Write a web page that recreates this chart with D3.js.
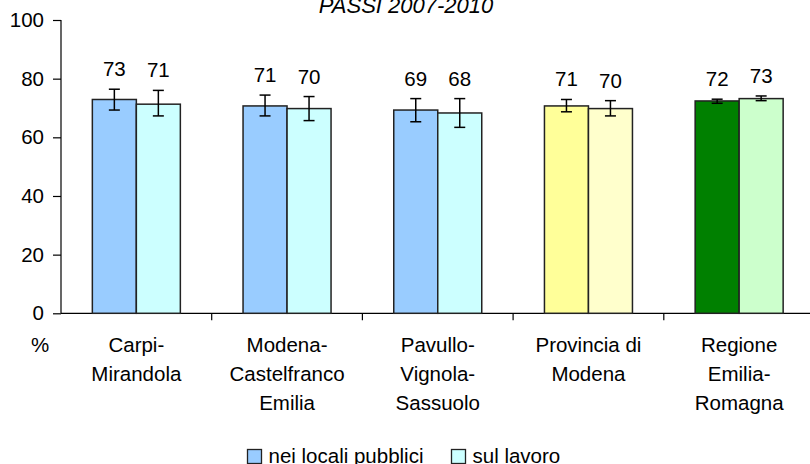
<!DOCTYPE html>
<html>
<head>
<meta charset="utf-8">
<script src="https://cdn.jsdelivr.net/npm/d3@7/dist/d3.min.js"></script>
<style>
  html, body { margin: 0; padding: 0; background: #fff; }
  svg { display: block; font-family: "Liberation Sans", Arial, sans-serif; }
</style>
</head>
<body>
<svg id="chart" width="810" height="464"></svg>
<script>
// ---- data ----
const title = "PASSI 2007-2010";
const categories = ["Carpi-\nMirandola", "Modena-\nCastelfranco\nEmilia", "Pavullo-\nVignola-\nSassuolo", "Provincia di\nModena", "Regione\nEmilia-\nRomagna"];
const seriesNames = ["nei locali pubblici", "sul lavoro"];
const localiValues = [72.9, 70.7, 69.3, 70.7, 72.4];
const lavoroValues = [71.3, 69.8, 68.3, 69.8, 73.2];
const localiLow  = [69.3, 67.3, 65.3, 68.7, 71.6];
const localiHigh = [76.4, 74.4, 73.2, 72.9, 73.0];
const lavoroLow  = [67.3, 65.7, 63.4, 67.3, 72.5];
const lavoroHigh = [76.0, 73.9, 73.2, 72.5, 74.1];
const localiColors = ["#99CCFF", "#99CCFF", "#99CCFF", "#FFFF99", "#008000"];
const lavoroColors = ["#CCFFFF", "#CCFFFF", "#CCFFFF", "#FFFFCC", "#CCFFCC"];
const yTicks = [0, 20, 40, 60, 80, 100];

// ---- layout ----
const svg = d3.select("#chart");
const plotLeft = 61, plotTop = 20, plotBottom = 313.3;
const bandW = 150.7;
const x = d3.scaleBand().domain(d3.range(categories.length)).range([plotLeft, plotLeft + bandW * categories.length]).padding(0);
const y = d3.scaleLinear().domain([0, 100]).range([plotBottom, plotTop]);
const barW = 44;
const inner = d3.scaleBand().domain([0, 1]).range([(bandW - 2 * barW) / 2, (bandW - 2 * barW) / 2 + 2 * barW]).padding(0);

const FS = 20.5;

// title
svg.append("text").attr("x", 406).attr("y", 12.5).attr("text-anchor", "middle")
  .attr("font-size", 22).attr("font-style", "italic").text(title);

// y axis
const yAxis = d3.axisLeft(y).tickValues(yTicks).tickSize(8).tickPadding(9).tickFormat(d3.format("d"));
const gy = svg.append("g").attr("transform", `translate(${plotLeft},0)`).call(yAxis);
gy.select(".domain").attr("stroke", "#000").attr("stroke-width", 1.2).attr("d", `M0,${plotTop}V${plotBottom}`);
gy.selectAll(".tick line").attr("stroke", "#000").attr("stroke-width", 1.2);
gy.selectAll(".tick text").attr("font-size", FS).attr("fill", "#000").attr("font-family", "Liberation Sans, Arial, sans-serif");

// x axis
const xAxis = d3.axisBottom(x).tickValues([]).tickSize(0);
const gx = svg.append("g").attr("transform", `translate(0,${plotBottom})`).call(xAxis);
gx.select(".domain").attr("stroke", "#000").attr("stroke-width", 1.2).attr("d", `M${plotLeft},0H810`);
gx.selectAll("line.sep").data(d3.range(1, categories.length)).enter().append("line")
  .attr("class", "sep")
  .attr("x1", i => x(i)).attr("x2", i => x(i)).attr("y1", 0).attr("y2", 7)
  .attr("stroke", "#000").attr("stroke-width", 1.2);

// bars
const series = [
  { values: localiValues, low: localiLow, high: localiHigh, colors: localiColors },
  { values: lavoroValues, low: lavoroLow, high: lavoroHigh, colors: lavoroColors }
];
series.forEach((s, si) => {
  const g = svg.append("g");
  s.values.forEach((v, i) => {
    const bx = x(i) + inner(si);
    g.append("rect").attr("x", bx).attr("y", y(v)).attr("width", barW).attr("height", y(0) - y(v))
      .attr("fill", s.colors[i]).attr("stroke", "#222").attr("stroke-width", 1.5);
  });
});
// error bars and labels
series.forEach((s, si) => {
  const g = svg.append("g");
  s.values.forEach((v, i) => {
    const cx = x(i) + inner(si) + barW / 2;
    g.append("line").attr("x1", cx).attr("x2", cx).attr("y1", y(s.high[i])).attr("y2", y(s.low[i])).attr("stroke", "#000").attr("stroke-width", 1.5);
    [s.high[i], s.low[i]].forEach(e => {
      g.append("line").attr("x1", cx - 5.5).attr("x2", cx + 5.5).attr("y1", y(e)).attr("y2", y(e)).attr("stroke", "#000").attr("stroke-width", 1.5);
    });
    g.append("text").attr("x", cx).attr("y", y(s.high[i]) - 13).attr("text-anchor", "middle")
      .attr("font-size", FS).text(Math.round(v));
  });
});

// category labels
categories.forEach((c, i) => {
  const t = svg.append("text").attr("text-anchor", "middle").attr("font-size", FS);
  c.split("\n").forEach((line, li) => {
    t.append("tspan").attr("x", x(i) + bandW / 2).attr("y", 352 + li * 29).text(line);
  });
});
svg.append("text").attr("x", 40).attr("y", 352).attr("text-anchor", "middle").attr("font-size", FS).text("%");

// legend
const legendX = [247.5, 451.5];
seriesNames.forEach((n, i) => {
  svg.append("rect").attr("x", legendX[i]).attr("y", 449.5).attr("width", 14).attr("height", 14)
    .attr("fill", i === 0 ? localiColors[0] : lavoroColors[0]).attr("stroke", "#222").attr("stroke-width", 1.3);
  svg.append("text").attr("x", legendX[i] + 21).attr("y", 463).attr("font-size", FS).text(n);
});
</script>
</body>
</html>
